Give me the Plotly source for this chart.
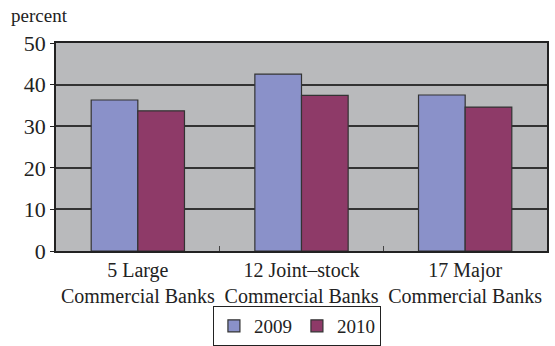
import plotly.graph_objects as go

categories = ["5 Large<br>Commercial Banks",
              "12 Joint\u2013stock<br>Commercial Banks",
              "17 Major<br>Commercial Banks"]
values_2009 = [36.3, 42.5, 37.5]
values_2010 = [33.7, 37.4, 34.6]
y_ticks = [0, 10, 20, 30, 40, 50]

serif = "Times New Roman"

fig = go.Figure()
fig.add_trace(go.Bar(x=categories, y=values_2009, name="2009",
                     marker=dict(color="#8a91c9",
                                 line=dict(color="#333333", width=1.2))))
fig.add_trace(go.Bar(x=categories, y=values_2010, name="2010",
                     marker=dict(color="#8e3a68",
                                 line=dict(color="#333333", width=1.2))))

fig.update_layout(
    width=555, height=346,
    margin=dict(l=56, r=8, t=43, b=95),
    paper_bgcolor="white",
    plot_bgcolor="#b9babc",
    barmode="group",
    bargap=0.43,
    bargroupgap=0,
    font=dict(family=serif, size=17, color="#222222"),
    showlegend=True,
    legend=dict(orientation="h", xref="container", yref="container",
                x=0.535, xanchor="center", y=-0.045, yanchor="bottom",
                bordercolor="#222222", borderwidth=1,
                font=dict(family=serif, size=19, color="#222222"),
                itemwidth=30, tracegroupgap=0),
    annotations=[dict(text="percent", xref="paper", yref="paper",
                      x=-0.096, y=1.07, xanchor="left", yanchor="bottom",
                      showarrow=False,
                      font=dict(family=serif, size=19, color="#222222"))],
)

fig.update_xaxes(showline=True, linecolor="#222222", linewidth=1.5,
                 mirror=True, ticks="inside", tickson="boundaries",
                 ticklen=5, tickcolor="#444444", showgrid=False,
                 tickangle=0,
                 tickfont=dict(family=serif, size=20, color="#222222"),
                 automargin=False)
fig.update_yaxes(range=[0, 50], tickvals=y_ticks, showline=True,
                 linecolor="#222222", linewidth=1.5, mirror=True,
                 ticks="outside", ticklen=4, tickcolor="#222222",
                 gridcolor="#333333", gridwidth=1.5, zeroline=False,
                 tickfont=dict(family=serif, size=22, color="#222222"),
                 automargin=False)

# the page body has a default 8px margin; remove it
fig.write_html("out.html", config={"displayModeBar": False},
               post_script="document.body.style.margin='0';")
